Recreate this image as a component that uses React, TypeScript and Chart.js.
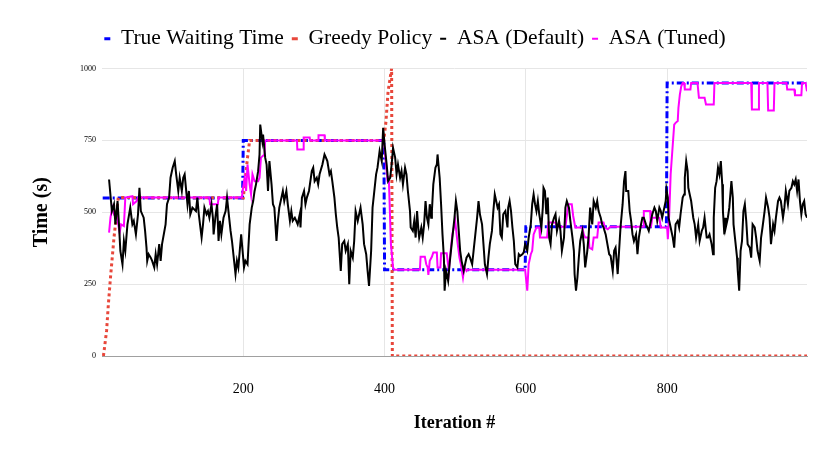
import React, { useEffect, useRef } from "react";
import { Chart, registerables } from "chart.js";

Chart.register(...registerables);

const FONT = "'Liberation Serif', 'Times New Roman', serif";

const xTicks = [200, 400, 600, 800];
const yTicks = [0, 250, 500, 750, 1000];

// True waiting time (step function)
const trueIter = [1, 199, 200, 399, 400, 599, 600, 799, 800, 998];
const trueTime = [550, 550, 750, 750, 300, 300, 450, 450, 950, 950];

// Greedy policy
const greedyIter = [2, 3, 6.5, 9, 12, 14.5, 17, 20, 23, 200, 203, 206, 209, 399, 402, 405, 410, 411, 998];
const greedyTime = [0, 18, 88, 180, 273, 342, 412, 481, 551, 550, 620, 690, 750, 750, 816, 921, 1000, 0, 0];

// ASA (Default)
const asaDefIter = [
  10, 14, 17, 19, 22, 24, 26, 29, 31, 33, 36, 40, 43, 45, 48, 51, 53, 55, 59, 61,
  63, 64, 66, 69, 71, 74, 76, 78, 81, 83, 85, 90, 92, 95, 97, 100, 103, 105, 108, 110,
  113, 115, 117, 121, 123, 125, 128, 133, 135, 137, 141, 143, 145, 148, 150, 152, 155, 157, 158, 161,
  163, 165, 167, 169, 172, 175, 177, 179, 182, 184, 187, 189, 191, 193, 195, 197, 199, 201, 203, 206,
  207, 209, 212, 214, 216, 218, 221, 223, 224, 227, 228, 231, 233, 235, 237, 240, 242, 244, 247, 249,
  251, 254, 256, 258, 261, 263, 266, 268, 270, 273, 275, 277, 280, 281, 283, 286, 288, 290, 293, 297,
  299, 301, 304, 306, 308, 312, 315, 317, 319, 322, 324, 326, 329, 331, 333, 335, 338, 340, 343, 345,
  348, 350, 352, 355, 357, 359, 362, 364, 366, 369, 371, 374, 376, 378, 381, 383, 385, 388, 390, 393,
  396, 398, 400, 403, 405, 408, 410, 412, 415, 417, 419, 422, 424, 426, 429, 431, 433, 436, 437, 440,
  442, 444, 446, 448, 449, 452, 454, 456, 458, 460, 462, 464, 466, 467, 469, 472, 474, 475, 478, 480,
  482, 484, 485, 487, 490, 492, 494, 497, 499, 501, 503, 505, 507, 509, 512, 514, 516, 519, 521, 524,
  526, 528, 531, 533, 535, 538, 540, 542, 545, 547, 549, 552, 554, 556, 558, 560, 562, 564, 566, 568,
  571, 574, 575, 577, 579, 581, 583, 585, 588, 590, 592, 595, 597, 599, 602, 604, 607, 609, 611, 613,
  615, 617, 619, 622, 624, 625, 627, 629, 631, 633, 635, 637, 640, 642, 644, 647, 649, 651, 654, 656,
  658, 661, 663, 666, 668, 669, 671, 673, 675, 677, 680, 682, 684, 687, 689, 691, 694, 696, 699, 701,
  703, 706, 708, 710, 713, 718, 720, 723, 725, 727, 730, 732, 734, 737, 739, 741, 742, 745, 747, 749,
  751, 753, 756, 758, 760, 763, 765, 767, 770, 772, 774, 777, 779, 782, 784, 786, 789, 791, 793, 796,
  798, 799, 801, 802, 805, 808, 810, 812, 815, 817, 819, 822, 824, 825, 827, 829, 830, 832, 834, 837,
  839, 841, 844, 846, 849, 851, 853, 856, 858, 860, 863, 865, 866, 868, 870, 872, 874, 876, 878, 879,
  881, 882, 883, 886, 888, 891, 893, 894, 896, 899, 900, 902, 904, 906, 908, 910, 912, 914, 917, 919,
  921, 924, 926, 928, 931, 933, 935, 938, 940, 943, 945, 947, 950, 952, 954, 957, 959, 961, 964, 966,
  968, 971, 973, 976, 978, 980, 982, 984, 986, 988, 990, 992, 994, 996, 998,
];
const asaDefTime = [
  614, 504, 528, 458, 539, 458, 366, 319, 400, 366, 458, 516, 458, 470, 423, 493, 585, 504, 481, 435,
  377, 331, 354, 342, 331, 308, 354, 319, 389, 331, 389, 458, 528, 551, 620, 655, 678, 632, 574, 620,
  574, 620, 632, 528, 574, 493, 516, 504, 551, 493, 412, 458, 516, 493, 504, 481, 528, 481, 423, 493,
  528, 400, 470, 423, 481, 504, 551, 504, 435, 400, 331, 285, 331, 308, 366, 423, 366, 308, 331, 319,
  366, 458, 516, 539, 574, 597, 643, 701, 805, 747, 770, 690, 666, 574, 678, 597, 528, 516, 400, 470,
  516, 551, 574, 539, 574, 528, 470, 504, 470, 481, 470, 458, 493, 447, 551, 574, 528, 551, 574, 643,
  655, 608, 620, 597, 632, 666, 701, 690, 678, 632, 643, 608, 551, 493, 447, 412, 296, 389, 400, 366,
  389, 250, 366, 342, 400, 504, 470, 493, 516, 458, 389, 354, 296, 244, 366, 516, 562, 632, 655, 713,
  678, 794, 736, 666, 608, 620, 666, 724, 690, 632, 666, 620, 643, 597, 655, 632, 574, 504, 447, 435,
  470, 412, 504, 435, 412, 447, 412, 458, 539, 481, 458, 528, 481, 504, 597, 655, 666, 701, 620, 528,
  423, 342, 227, 296, 261, 319, 366, 435, 481, 539, 504, 435, 366, 331, 296, 319, 342, 354, 342, 319,
  366, 412, 481, 539, 493, 458, 389, 319, 285, 342, 389, 435, 504, 562, 539, 516, 528, 423, 412, 493,
  504, 447, 516, 539, 504, 447, 400, 319, 308, 354, 348, 354, 360, 389, 366, 412, 458, 528, 562, 528,
  504, 539, 493, 447, 516, 585, 574, 493, 551, 412, 389, 458, 481, 493, 435, 470, 435, 366, 412, 516,
  539, 516, 470, 412, 366, 285, 227, 273, 342, 400, 435, 389, 308, 366, 423, 516, 458, 539, 516, 539,
  504, 481, 458, 447, 423, 354, 348, 296, 366, 377, 285, 366, 447, 528, 608, 643, 574, 574, 504, 470,
  423, 400, 423, 354, 412, 458, 481, 481, 458, 447, 435, 470, 493, 516, 504, 470, 516, 504, 481, 516,
  539, 580, 551, 481, 447, 412, 377, 458, 470, 447, 493, 551, 562, 620, 678, 643, 585, 562, 539, 481,
  458, 412, 458, 400, 435, 447, 481, 412, 412, 423, 389, 354, 481, 585, 608, 655, 632, 678, 597, 504,
  423, 481, 447, 481, 516, 608, 551, 458, 412, 342, 296, 227, 366, 400, 504, 528, 470, 389, 377, 342,
  458, 447, 412, 366, 331, 412, 447, 504, 551, 516, 481, 389, 458, 435, 481, 539, 551, 539, 481, 516,
  574, 528, 574, 585, 608, 597, 614, 574, 614, 539, 493, 528, 539, 493, 481,
];

// ASA (Tuned)
const asaTunIter = [
  10, 12, 14.5, 17, 20, 23, 25, 27, 31, 33, 43, 44, 49, 51, 152, 153, 164, 165, 198, 199,
  202, 204, 206, 209, 211, 213, 216, 221, 223, 225, 230, 231, 276, 276.5, 285, 285.5, 294, 294.5, 306, 306.5,
  315, 315.5, 399, 404, 406, 409, 412, 414, 450, 451, 457, 459, 461, 462, 464, 467, 469, 474, 475, 479,
  480, 488, 491, 493, 496, 498, 500, 501, 503, 506, 508, 511, 513, 516, 517, 599, 602, 604, 607, 609,
  611, 613, 615, 619, 620, 630, 632, 642, 644, 656, 658, 660, 665, 667, 670, 680, 682, 684, 689, 690,
  694, 696, 701, 703, 710, 712, 716, 720, 766, 767, 776, 777, 779, 789, 791, 800, 801, 803, 805, 810,
  812, 815, 816, 818, 820, 822, 824, 825, 833, 834, 843, 845, 853, 855, 866, 867, 919, 920, 929, 930,
  942, 943, 951, 952, 969, 970, 980, 981, 990, 991, 996, 998,
];
const asaTunTime = [
  429, 481, 516, 493, 499, 458, 429, 458, 452, 551, 556, 528, 539, 551, 551, 528, 528, 551, 551, 574,
  620, 574, 666, 597, 562, 632, 608, 608, 620, 690, 701, 750, 750, 718, 718, 760, 760, 750, 750, 768,
  768, 750, 750, 614, 620, 389, 308, 300, 300, 345, 345, 319, 308, 282, 331, 345, 360, 360, 308, 308,
  357, 357, 296, 354, 423, 447, 470, 470, 400, 342, 319, 273, 308, 296, 300, 300, 227, 319, 354, 366,
  423, 435, 447, 447, 412, 412, 464, 464, 450, 450, 487, 528, 528, 487, 447, 447, 423, 412, 412, 377,
  371, 412, 412, 464, 464, 447, 441, 450, 450, 504, 504, 447, 481, 481, 447, 447, 406, 493, 632, 805,
  811, 817, 863, 909, 938, 950, 950, 927, 927, 950, 950, 898, 898, 875, 875, 950, 950, 857, 857, 950,
  950, 854, 854, 950, 950, 927, 927, 907, 907, 950, 950, 921,
];

const toPoints = (xs: number[], ys: number[]) => xs.map((x, i) => ({ x, y: ys[i] }));

// extra gap between the legend and the plot
const legendGap = {
  id: "legendGap",
  beforeInit(chart: any) {
    const fit = chart.legend.fit;
    chart.legend.fit = function () {
      fit.call(this);
      this.height += 9;
    };
  },
};

const App = () => {
  const canvasRef = useRef<HTMLCanvasElement | null>(null);
  const chartRef = useRef<Chart | null>(null);

  useEffect(() => {
    if (chartRef.current) {
      chartRef.current.destroy();
    }
    const ctx = canvasRef.current?.getContext("2d");
    if (!ctx) return;

    chartRef.current = new Chart(ctx, {
      type: "line",
      plugins: [legendGap],
      data: {
        datasets: [
          {
            label: "True Waiting Time",
            data: toPoints(trueIter, trueTime),
            borderColor: "#0000ff",
            backgroundColor: "#0000ff",
            borderWidth: 3,
            borderDash: [7, 3, 2, 3],
            pointRadius: 0,
            order: 4,
          },
          {
            label: "Greedy Policy",
            data: toPoints(greedyIter, greedyTime),
            borderColor: "#e8473b",
            backgroundColor: "#e8473b",
            borderWidth: 3,
            borderDash: [3, 3],
            pointRadius: 0,
            order: 3,
          },
          {
            label: "ASA (Default)",
            data: toPoints(asaDefIter, asaDefTime),
            borderColor: "#000000",
            backgroundColor: "#000000",
            borderWidth: 2,
            pointRadius: 0,
            order: 1,
          },
          {
            label: "ASA (Tuned)",
            data: toPoints(asaTunIter, asaTunTime),
            borderColor: "#ff00ff",
            backgroundColor: "#ff00ff",
            borderWidth: 2,
            pointRadius: 0,
            order: 2,
          },
        ],
      },
      options: {
        animation: false,
        responsive: true,
        maintainAspectRatio: false,
        layout: { padding: { top: 20, right: 0, left: 0, bottom: 0 } },
        plugins: {
          legend: {
            position: "top",
            labels: {
              color: "#000",
              font: { family: FONT, size: 21.5 },
              usePointStyle: true,
              pointStyle: "line",
              pointStyleWidth: 6,
              boxHeight: 8,
              padding: 8,
              sort: (a: any, b: any) => a.datasetIndex - b.datasetIndex,
            },
          },
          tooltip: { enabled: false },
        },
        scales: {
          x: {
            type: "linear",
            min: 0,
            max: 998,
            afterBuildTicks: (axis: any) => {
              axis.ticks = xTicks.map((v) => ({ value: v }));
            },
            afterFit: (axis: any) => {
              axis.height = 99;
            },
            grid: { color: "#e6e6e6", drawTicks: false },
            border: { color: "#a0a0a0" },
            ticks: { color: "#000", font: { family: FONT, size: 14 }, padding: 25 },
            title: {
              display: true,
              text: "Iteration #",
              color: "#000",
              font: { family: FONT, size: 18, weight: "bold" },
              padding: { top: 0, bottom: 21 },
            },
          },
          y: {
            type: "linear",
            min: 0,
            max: 1000,
            afterBuildTicks: (axis: any) => {
              axis.ticks = yTicks.map((v) => ({ value: v }));
            },
            afterFit: (axis: any) => {
              axis.width = 102;
            },
            grid: { color: "#e6e6e6", drawTicks: false },
            border: { display: false },
            ticks: {
              color: "#000",
              font: { family: FONT, size: 8 },
              padding: 6,
              callback: (v: any) => String(v),
            },
            title: {
              display: true,
              text: "Time (s)",
              color: "#000",
              font: { family: FONT, size: 20, weight: "bold" },
              padding: { top: 30, bottom: 0 },
            },
          },
          // empty right-hand margin, keeps the legend centred on the canvas
          yRight: {
            type: "linear",
            position: "right",
            min: 0,
            max: 1000,
            afterFit: (axis: any) => {
              axis.width = 23;
            },
            grid: { display: false },
            border: { display: false },
            ticks: { display: false },
          },
        },
      },
    });

    return () => {
      if (chartRef.current) {
        chartRef.current.destroy();
        chartRef.current = null;
      }
    };
  }, []);

  return (
    <div
      style={{
        position: "fixed",
        left: 0,
        top: 0,
        width: 830,
        height: 455,
        background: "#fff",
      }}
    >
      <canvas ref={canvasRef} />
    </div>
  );
};

export default App;
